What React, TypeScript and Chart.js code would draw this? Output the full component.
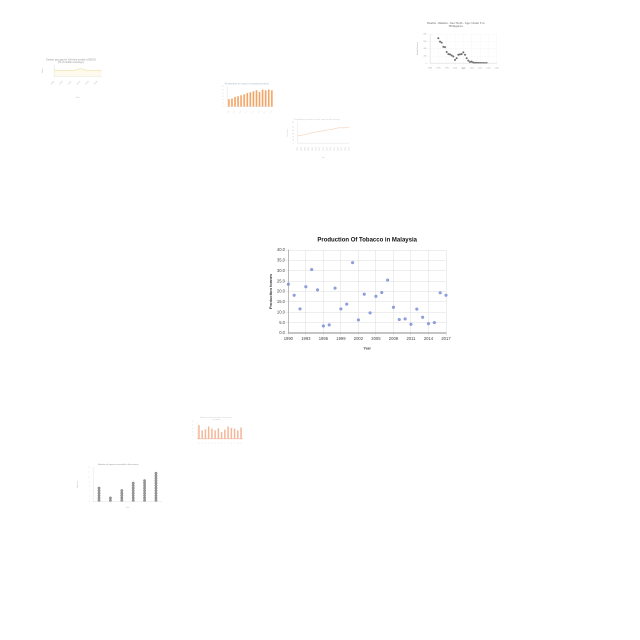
import React, { useEffect, useRef } from "react";
import { Chart, registerables } from "chart.js";
Chart.register(...registerables);
Chart.defaults.font.family = "'Liberation Sans', Arial, sans-serif";

// ---- Main chart data ----
const years = [1990,1991,1992,1993,1994,1995,1996,1997,1998,1999,2000,2001,2002,2003,2004,2005,2006,2007,2008,2009,2010,2011,2012,2013,2014,2015,2016,2017];
const production = [23.5,18.2,11.6,22.3,30.6,20.8,3.4,3.9,21.6,11.6,13.9,33.9,6.3,18.7,9.7,17.7,19.5,25.5,12.4,6.5,6.8,4.2,11.5,7.6,4.5,5.0,19.4,18.2];
const mainTitle = "Production Of Tobacco in Malaysia";
const mainYTitle = "Production tonnes";
const mainXTitle = "Year";

// ---- Thumbnail 1: malaria deaths ----
const malariaYears = [1990,1991,1992,1993,1994,1995,1996,1997,1998,1999,2000,2001,2002,2003,2004,2005,2006,2007,2008,2009,2010,2011,2012,2013,2014,2015,2016,2017,2018,2019];
const malariaDeaths = [687,593,565,452,442,311,254,245,216,188,94,141,235,245,254,301,235,141,75,38,47,19,15,12,10,10,8,8,7,6];
const malariaTitle = ["Deaths - Malaria - Sex: Both - Age: Under 5 in", "Philippines"];

// ---- Thumbnail 2: yellow line ----
const gapLabels = ["2008","2009","2010","2011","2012","2013","2014","2015","2016","2017","2018","2019"];
const gapValues = [52,52,53,53,54,56,68,58,54,52,52,53];
const gapTitle = ["Gender pay gap for full-time workers (OECD)", "(% of median earnings)"];

// ---- Thumbnail 3: orange bars ----
const bar3Labels = ["2005","2006","2007","2008","2009","2010","2011","2012","2013","2014","2015","2016","2017","2018","2019"];
const bar3Values = [23,25,30,32,35,38,42,44,47,50,45,52,50,52,50];

// ---- Thumbnail 4: orange line ----
const line4Labels = ["2005","2006","2007","2008","2009","2010","2011","2012","2013","2014","2015","2016","2017","2018","2019"];
const line4Values = [23,25,27,30,33,35,37,39,41,43,45,48,48,48,50];

// ---- Thumbnail 5: salmon bars ----
const bar5Labels = ["A","B","C","D","E","F","G","H","I","J","K","L","M","N"];
const bar5Values = [40,25,28,36,30,25,31,20,27,36,32,30,25,33];

// ---- Thumbnail 6: dot columns ----
const dotLabels = ["2014","2015","2016","2017","2018","2019"];
const dotCounts = [6,2,5,8,9,12];

function fixW(w: number) { return (s: any) => { s.width = w; }; }
function fixH(h: number) { return (s: any) => { s.height = h; }; }

// Layout is expressed in 3x logical units; the backing store is 2x, shown at 1x.
function Scaled({ x, y, w, h, opacity = 1, make }: any) {
  const ref = useRef<HTMLCanvasElement>(null);
  useEffect(() => {
    const cfg = make();
    cfg.options.devicePixelRatio = 2 / 3;
    const chart = new Chart(ref.current!, cfg);
    return () => chart.destroy();
  }, []);
  const k = 3;
  return (
    <div style={{ position: "absolute", left: x, top: y, width: w * k, height: h * k, transform: `scale(${1 / k})`, transformOrigin: "0 0", opacity }}>
      <canvas ref={ref} width={w * k} height={h * k} style={{ display: "block", width: w * k, height: h * k }} />
    </div>
  );
}

const base = { animation: false, responsive: false };
const noPlug = { legend: { display: false }, tooltip: { enabled: false } };

function mainConfig(): any {
  return {
    type: "scatter",
    data: { datasets: [{ data: years.map((yr, i) => ({ x: yr, y: production[i] })), backgroundColor: "rgba(125,145,215,0.85)", borderColor: "rgba(110,130,205,0.9)", borderWidth: 1, pointRadius: 4.2, clip: false }] },
    options: {
      ...base,
      layout: { padding: { left: 0, right: 27, top: 0, bottom: 0 } },
      plugins: { ...noPlug, title: { display: true, fullSize: false, text: mainTitle, color: "#111", font: { size: 18, weight: "bold" }, padding: { top: 19, bottom: 19.4 } } },
      scales: {
        x: { type: "linear", min: 1990, max: 2017, afterFit: fixH(57),
          ticks: { stepSize: 3, color: "#444", font: { size: 12.5 }, padding: 2, callback: (v: any) => String(v) },
          grid: { color: "#dcdcdc", lineWidth: 1.5 }, border: { color: "#8a8a8a", width: 3 },
          title: { display: true, text: mainXTitle, color: "#444", font: { size: 10.5, weight: "bold" }, padding: { top: 2 } } },
        y: { min: 0, max: 40, afterFit: fixW(70),
          ticks: { stepSize: 5, color: "#444", font: { size: 12.5 }, padding: 2, callback: (v: any) => Number(v).toFixed(1) },
          grid: { color: "#dcdcdc", lineWidth: 1.5 }, border: { color: "#999", width: 2 },
          title: { display: true, text: mainYTitle, color: "#333", font: { size: 12, weight: "bold" }, padding: { top: 11, bottom: 0 } } },
      },
    },
  };
}

function malariaConfig(): any {
  return {
    type: "scatter",
    data: { datasets: [{ data: malariaYears.map((yr, i) => ({ x: yr, y: malariaDeaths[i] })), backgroundColor: "#555", borderColor: "#444", pointRadius: 2.5 }] },
    options: {
      ...base,
      layout: { padding: { right: 25 } },
      plugins: { ...noPlug, title: { display: true, text: malariaTitle, color: "#777", font: { size: 8 }, padding: { top: 5, bottom: 18 } } },
      scales: {
        x: { type: "linear", min: 1985, max: 2025, afterFit: fixH(20), ticks: { stepSize: 5, font: { size: 5 }, color: "#888" }, grid: { color: "#eee" }, border: { color: "#bbb" }, title: { display: true, text: "Year", font: { size: 5 }, color: "#888", padding: 1 } },
        y: { min: 0, max: 800, afterFit: fixW(45), ticks: { stepSize: 200, font: { size: 5 }, color: "#888" }, grid: { color: "#eee" }, border: { color: "#bbb" }, title: { display: true, text: "Deaths (Number)", font: { size: 5 }, color: "#888" } },
      },
    },
  };
}

function gapConfig(): any {
  return {
    type: "line",
    data: { labels: gapLabels, datasets: [{ data: gapValues, borderColor: "#eadb8e", backgroundColor: "rgba(250,244,215,0.6)", fill: true, pointRadius: 0, borderWidth: 2, tension: 0.3 }] },
    options: {
      ...base,
      layout: { padding: { right: 55 } },
      plugins: { ...noPlug, title: { display: true, text: gapTitle, color: "#999", font: { size: 7 }, padding: { top: 10, bottom: 3 } } },
      scales: {
        x: { afterFit: fixH(70), ticks: { maxRotation: 45, minRotation: 45, font: { size: 6 }, color: "#aaa" }, grid: { display: false }, border: { color: "#ccc" }, title: { display: true, text: "Year", font: { size: 6 }, color: "#aaa" } },
        y: { min: 0, max: 100, afterFit: fixW(42), ticks: { display: false }, grid: { display: false }, border: { color: "#bbb" }, title: { display: true, text: "Value", font: { size: 6 }, color: "#aaa" } },
      },
    },
  };
}

function bar3Config(): any {
  return {
    type: "bar",
    data: { labels: bar3Labels, datasets: [{ data: bar3Values, backgroundColor: "#f09a55", borderColor: "#f7c08f", borderWidth: 1, categoryPercentage: 0.8, barPercentage: 0.85 }] },
    options: {
      ...base,
      layout: { padding: { right: 20 } },
      plugins: { ...noPlug, title: { display: true, text: "Production of crops in country (tonnes)", color: "#b7c2d6", font: { size: 7 }, padding: { top: 8, bottom: 4 } } },
      scales: {
        x: { afterFit: fixH(25), ticks: { font: { size: 4 }, color: "#ccc" }, grid: { display: false }, border: { color: "#ccc" } },
        y: { min: 0, max: 60, afterFit: fixW(22), ticks: { font: { size: 4 }, color: "#ccc" }, grid: { display: false }, border: { color: "#ccc" } },
      },
    },
  };
}

function line4Config(): any {
  return {
    type: "line",
    data: { labels: line4Labels, datasets: [{ data: line4Values, borderColor: "#f2b48e", pointRadius: 0, borderWidth: 1.5 }] },
    options: {
      ...base,
      layout: { padding: { right: 18 } },
      plugins: { ...noPlug, title: { display: true, text: "Population growth over the years in the country", color: "#ccc", font: { size: 6 }, padding: { top: 10, bottom: 5 } } },
      scales: {
        x: { afterFit: fixH(50), ticks: { maxRotation: 90, minRotation: 90, font: { size: 5 }, color: "#bbb" }, grid: { display: false }, border: { color: "#ccc" }, title: { display: true, text: "Year", font: { size: 5 }, color: "#bbb" } },
        y: { min: 0, max: 65, afterFit: fixW(38), ticks: { font: { size: 5 }, color: "#bbb", stepSize: 10 }, grid: { display: false }, border: { color: "#ccc" }, title: { display: true, text: "Population", font: { size: 5 }, color: "#bbb" } },
      },
    },
  };
}

function bar5Config(): any {
  return {
    type: "bar",
    data: { labels: bar5Labels, datasets: [{ data: bar5Values, backgroundColor: "#f3ab8a", categoryPercentage: 0.8, barPercentage: 0.6 }] },
    options: {
      ...base,
      layout: { padding: { right: 22 } },
      plugins: { ...noPlug, title: { display: true, text: ["Number of tourist arrivals in the country", "by month"], color: "#ccc", font: { size: 5 }, padding: { top: 5, bottom: 3 } } },
      scales: {
        x: { afterFit: fixH(18), ticks: { font: { size: 4 }, color: "#ccc" }, grid: { display: false }, border: { color: "#f0a080", width: 2 } },
        y: { min: 0, max: 50, afterFit: fixW(22), ticks: { font: { size: 4 }, color: "#ccc" }, grid: { display: false }, border: { color: "#ddd" } },
      },
    },
  };
}

function dotConfig(): any {
  const pts: any[] = [];
  dotCounts.forEach((n, i) => { for (let j = 0; j < n; j++) pts.push({ x: i, y: j + 0.5 }); });
  return {
    type: "scatter",
    data: { datasets: [{ data: pts, backgroundColor: "#8a8a8a", borderColor: "#555", borderWidth: 1.2, pointRadius: 3.6 }] },
    options: {
      ...base,
      layout: { padding: { right: 10 } },
      plugins: { ...noPlug, title: { display: true, text: "Number of species recorded in the reserve", color: "#999", font: { size: 6 }, padding: { top: 24, bottom: 5 } } },
      scales: {
        x: { type: "linear", min: -0.5, max: 5.5, afterFit: fixH(25), ticks: { stepSize: 1, font: { size: 5 }, color: "#aaa", callback: (v: any) => dotLabels[v] ?? "" }, grid: { display: false }, border: { color: "#ccc" }, title: { display: true, text: "Year", font: { size: 5 }, color: "#aaa" } },
        y: { min: 0, max: 14, afterFit: fixW(55), ticks: { stepSize: 2, font: { size: 4 }, color: "#ccc" }, grid: { display: false }, border: { color: "#ccc" }, title: { display: true, text: "Species", font: { size: 6 }, color: "#aaa" } },
      },
    },
  };
}

export default function App() {
  return (
    <div style={{ position: "fixed", left: 0, top: 0, width: 640, height: 640, background: "#fff", overflow: "hidden" }}>
      <Scaled x={415} y={20} w={90} h={50} opacity={0.85} make={malariaConfig} />
      <Scaled x={40} y={55} w={80} h={45} opacity={0.8} make={gapConfig} />
      <Scaled x={220} y={80} w={60} h={35} opacity={0.9} make={bar3Config} />
      <Scaled x={285} y={115} w={70} h={45} opacity={0.8} make={line4Config} />
      <Scaled x={190} y={415} w={60} h={30} opacity={0.85} make={bar5Config} />
      <Scaled x={75} y={455} w={90} h={55} opacity={0.85} make={dotConfig} />
      <Scaled x={265} y={230} w={190} h={122} make={mainConfig} />
    </div>
  );
}
